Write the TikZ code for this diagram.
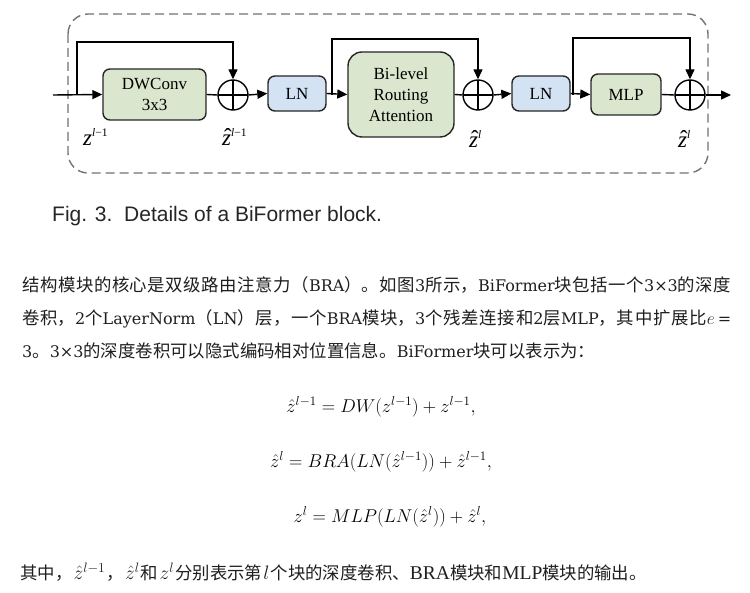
\RequirePackage{fix-cm}
\documentclass[tikz,border=0pt]{standalone}
\usepackage{amsmath}
\usepackage{fontspec}
\setmainfont{Liberation Serif}
\newfontfamily\myzhfont{Noto Sans CJK SC}
\newfontfamily\mylatfont[Scale=0.92]{DejaVu Serif}
\newfontfamily\mycapfont{Liberation Sans}
\usetikzlibrary{arrows.meta}
\XeTeXlinebreaklocale "zh"
\XeTeXlinebreakskip=0pt plus 3pt
\definecolor{boxgreen}{RGB}{218,230,205}
\definecolor{boxblue}{RGB}{212,227,243}
\newcommand\myzh[1]{{\myzhfont #1}}
\newcommand\mylat[1]{{\mylatfont #1}}
\newcommand\bodyf{\fontsize{17.4}{20}\selectfont}
\newcommand\jline[1]{\parbox[b]{709pt}{\tolerance=10000\parfillskip=0pt\parindent=0pt\leftskip=0pt\rightskip=0pt #1\par}}
\newcommand\lm[1]{\kern1.2pt{\fontsize{19.5}{22}\selectfont$#1$}\kern1.2pt}
% diagram labels: #1 = hat or nothing, #2 = superscript
\newcommand\dhatmark{\rlap{\hspace{1.8pt}\raisebox{1.5pt}{ˆ}}}
\newcommand\dz[2]{{\fontsize{23}{25}\selectfont #1\textit{z}\raisebox{9.5pt}{\fontsize{11.5}{12}\selectfont #2}}}
\begin{document}
\begin{tikzpicture}[x=1pt,y=-1pt,
  lw/.style={line width=1.4pt},
  blk/.style={lw, draw=black!85, rounded corners=7pt, align=center, inner sep=0pt,
    font=\fontsize{17}{21}\selectfont},
  gblk/.style={blk, fill=boxgreen},
  bblk/.style={blk, fill=boxblue},
  sum/.style={lw, circle, draw=black, minimum size=30pt, inner sep=0pt,
    path picture={\draw[lw] (path picture bounding box.north) -- (path picture bounding box.south)
      (path picture bounding box.west) -- (path picture bounding box.east);}},
  arr/.style={lw, -{Triangle[length=10pt,width=9pt]}},
  ln/.style={lw},
  txt/.style={inner sep=0pt, anchor=base west, font=\bodyf, text=black!88}
  ]
\useasboundingbox (0,0) rectangle (750,593);
\fill[white] (0,0) rectangle (750,593);
% frame
\draw[lw, draw=black!55, dash pattern=on 9pt off 5pt, rounded corners=20pt] (68,14) rectangle (708,173);
% blocks
\node[gblk, minimum width=103pt, minimum height=51pt] (dw) at (154.5,94.5) {DWConv\\3x3};
\node[sum] (p1) at (233,95) {};
\node[bblk, minimum width=58pt, minimum height=35pt] (ln1) at (297,93.5) {LN};
\node[gblk, rounded corners=14pt, minimum width=106pt, minimum height=85pt] (bra) at (401,94.5) {Bi-level\\Routing\\Attention};
\node[sum] (p2) at (478,95) {};
\node[bblk, minimum width=58pt, minimum height=35pt] (ln2) at (541,93.5) {LN};
\node[gblk, minimum width=70pt, minimum height=41pt] (mlp) at (626,94.5) {MLP};
\node[sum] (p3) at (690,95) {};
\coordinate (in) at (53,95);
\coordinate (out) at (731,95);
\coordinate (s1) at (77,95);
\coordinate (t1) at (77,42);
\coordinate (s2) at (332,95);
\coordinate (t2) at (332,39);
\coordinate (s3) at (573,95);
\coordinate (t3) at (573,38);
% connectors
\draw[arr] (in) -- (dw.west);
\draw[arr] (s1) -- (t1) -| (p1.north);
\draw[ln] (dw.east) -- (p1.west);
\draw[arr] (p1.east) -- (ln1.west);
\draw[arr] (ln1.east) -- (bra.west);
\draw[arr] (s2) -- (t2) -| (p2.north);
\draw[ln] (bra.east) -- (p2.west);
\draw[arr] (p2.east) -- (ln2.west);
\draw[arr] (ln2.east) -- (mlp.west);
\draw[arr] (s3) -- (t3) -| (p3.north);
\draw[ln] (mlp.east) -- (p3.west);
\draw[arr] (p3.east) -- (out);
% labels
\node[inner sep=0pt, anchor=base west] (l1) at (83,146) {\dz{}{\textit{l}−1}};
\node[inner sep=0pt, anchor=base west] (l2) at (222,146) {\dz{\dhatmark}{\textit{l}−1}};
\node[inner sep=0pt, anchor=base west] (l3) at (469,148) {\dz{\dhatmark}{\textit{l}}};
\node[inner sep=0pt, anchor=base west] (l4) at (678,148) {\dz{\dhatmark}{\textit{l}}};
% caption
\node[inner sep=0pt, anchor=base west, font=\mycapfont\fontsize{21}{24}\selectfont, text=black!85] (cap) at (52,222) {Fig. 3.\ \ Details of a BiFormer block.};
% body
\node[txt] (b1) at (22,291.6) {\jline{\myzh{结构模块的核心是双级路由注意力（}\mylat{BRA}\myzh{）。如图}\mylat{3}\myzh{所示，}\mylat{BiFormer}\myzh{块包括一个}\mylat{3×3}\myzh{的深度}}};
\node[txt] (b2) at (22,324.6) {\jline{\myzh{卷积，}\mylat{2}\myzh{个}\mylat{LayerNorm}\myzh{（}\mylat{LN}\myzh{）层，一个}\mylat{BRA}\myzh{模块，}\mylat{3}\myzh{个残差连接和}\mylat{2}\myzh{层}\mylat{MLP}\myzh{，其中扩展比}$e$\,\mylat{=}}};
\node[txt] (b3) at (22,357.6) {\mylat{3}\myzh{。}\mylat{3×3}\myzh{的深度卷积可以隐式编码相对位置信息。}\mylat{BiFormer}\myzh{块可以表示为：}};
% equations
\node[inner sep=0pt, font=\fontsize{18.5}{22}\selectfont] (e1) at (381,407) {$\hat{z}^{l-1} = DW(z^{l-1}) + z^{l-1},$};
\node[inner sep=0pt, font=\fontsize{18.5}{22}\selectfont] (e2) at (381,462) {$\hat{z}^{l} = BRA(LN(\hat{z}^{l-1})) + \hat{z}^{l-1},$};
\node[inner sep=0pt, font=\fontsize{18.5}{22}\selectfont] (e3) at (390,517) {$z^{l} = MLP(LN(\hat{z}^{l})) + \hat{z}^{l},$};
% last line
\node[txt] (b4) at (20,579.6) {\myzh{其中，}\lm{\hat{z}^{l-1}}\myzh{，}\lm{\hat{z}^{l}}\myzh{和}\lm{z^{l}}\myzh{分别表示第}\lm{l}\myzh{个块的深度卷积、}{\fontsize{19.5}{22}\selectfont BRA}\myzh{模块和}{\fontsize{19.5}{22}\selectfont MLP}\myzh{模块的输出。}};
\end{tikzpicture}
\end{document}
